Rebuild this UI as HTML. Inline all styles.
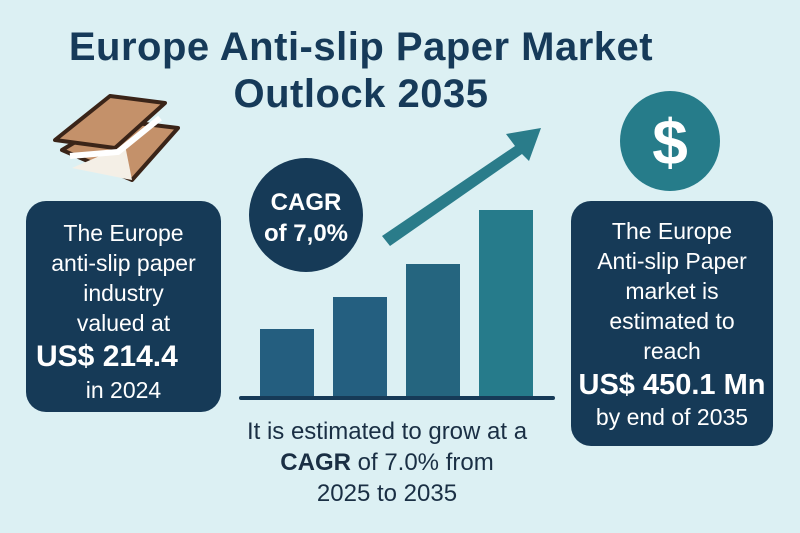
<!DOCTYPE html>
<html><head><meta charset="utf-8"><style>
body{margin:0;width:800px;height:533px;overflow:hidden;background:#dcf0f3;font-family:"Liberation Sans",sans-serif}
.t{position:absolute;color:#163a59;font-weight:bold;text-align:center}
.box{position:absolute;background:#163a57;border-radius:20px;color:#fff;text-align:center}
</style></head><body>
<div style="position:relative;width:800px;height:533px">
<div class="t" style="left:0;width:722px;top:24px;font-size:40px;line-height:47px;letter-spacing:0.5px">Europe Anti-slip Paper Market<br>Outlock 2035</div>
<svg style="position:absolute;left:0;top:0" width="800" height="533">
<polygon points="62,150 112,120 178,128 132,180" fill="#c4916a" stroke="#3a2418" stroke-width="4" stroke-linejoin="round"/>
<polygon points="72,168 125,145 132,180" fill="#f4efe6"/>
<polygon points="55,140 110,96 165,103 115,148" fill="#c4916a" stroke="#3a2418" stroke-width="4" stroke-linejoin="round"/>
<path d="M70,156 L118,152 L160,118" stroke="#fff" stroke-width="6" fill="none"/>
<g id="chart"></g>
<circle cx="306" cy="215" r="57" fill="#163a57"/>
<text x="306" y="210" text-anchor="middle" fill="#fff" font-family="Liberation Sans" font-size="24" font-weight="bold">CAGR</text>
<text x="306" y="241" text-anchor="middle" fill="#fff" font-family="Liberation Sans" font-size="24" font-weight="bold">of 7,0%</text>
<circle cx="670" cy="141" r="50" fill="#267c8a"/>
<text x="670" y="164" text-anchor="middle" fill="#fff" font-family="Liberation Sans" font-size="64" font-weight="bold">$</text>
</svg>
<div class="box" style="left:26px;top:201px;width:195px;height:211px">
<div style="padding-top:17px;font-size:23px;line-height:30px">The Europe<br>anti-slip paper<br>industry<br>valued at</div>
<div style="font-size:30px;font-weight:bold;line-height:38px;text-align:left;padding-left:10px">US$ 214.4</div>
<div style="font-size:23px;line-height:28px">in 2024</div>
</div>
<div class="box" style="left:571px;top:201px;width:202px;height:245px">
<div style="padding-top:15px;font-size:23px;line-height:30px">The Europe<br>Anti-slip Paper<br>market is<br>estimated to<br>reach</div>
<div style="font-size:29px;font-weight:bold;line-height:38px;white-space:nowrap">US$ 450.1 Mn</div>
<div style="font-size:23px;line-height:26px">by end of 2035</div>
</div>
<div class="t" style="left:187px;width:400px;top:416px;font-size:24px;line-height:31px;font-weight:normal;color:#1a2f44">It is estimated to grow at a<br><b>CAGR</b> of 7.0% from<br>2025 to 2035</div>
</div>
<script>
const categories=["2025","2028","2031","2035"];
const values=[69,101,134,188];
const colors=["#245e7f","#245f80","#25657f","#267b8b"];
const g=document.getElementById('chart');
const NS="http://www.w3.org/2000/svg";
const base=398,left=260,step=73,bw=54;
const y=v=>base-v;
const x=i=>left+i*step;
const ar=document.createElementNS(NS,'path');
ar.setAttribute('d','M382,236 L515,146 L506,134 L541,128 L529,161 L522,154 L390,246 Z');
ar.setAttribute('fill','#2a7c8a');


g.appendChild(ar);
values.forEach((v,i)=>{
const r=document.createElementNS(NS,'rect');
r.setAttribute('x',x(i));r.setAttribute('y',y(v));r.setAttribute('width',bw);r.setAttribute('height',v);
r.setAttribute('fill',colors[i]);


g.appendChild(r);
});
const ax=document.createElementNS(NS,'line');
ax.setAttribute('x1',241);ax.setAttribute('x2',553);ax.setAttribute('y1',base);ax.setAttribute('y2',base);
ax.setAttribute('stroke','#163a57');ax.setAttribute('stroke-width',4);ax.setAttribute('stroke-linecap','round');


g.appendChild(ax);
</script>
</body></html>
